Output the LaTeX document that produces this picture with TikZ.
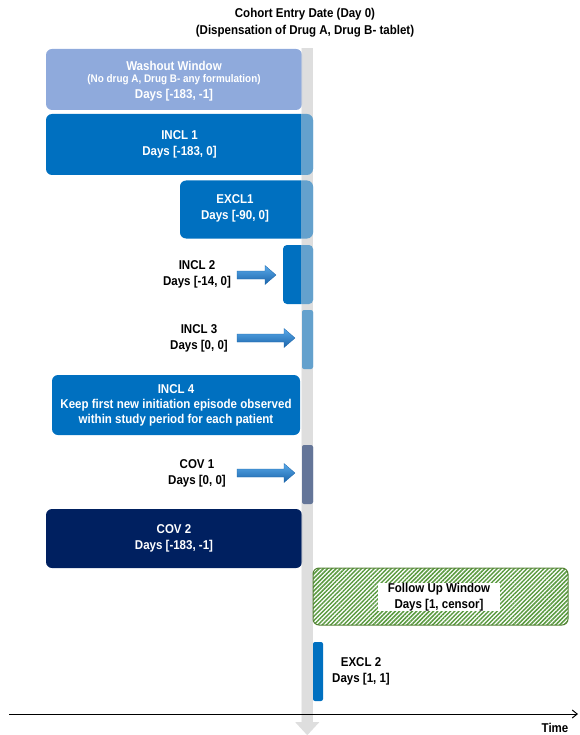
\documentclass[tikz,border=0pt]{standalone}
\usepackage{fontspec}
\setmainfont{Liberation Sans}[FakeStretch=0.9]
\usetikzlibrary{arrows.meta,patterns.meta,calc}
\definecolor{wash}{HTML}{8FAADC}
\definecolor{mblue}{HTML}{0070C0}
\definecolor{navy}{HTML}{002060}
\definecolor{gbar}{HTML}{DEDEDE}
\definecolor{fgreen}{HTML}{548235}
\definecolor{hgreen}{HTML}{5A9A40}
\definecolor{arrtop}{HTML}{5AAAEA}
\definecolor{arrbot}{HTML}{1A64AA}
\newcommand\mainf{\fontsize{12.8}{16}\selectfont\bfseries}
\newcommand\blockarrow[2]{%
  \shade[barr] ($(#1)+(0,-4)$) -- ($(#2)+(-11,-4)$) -- ($(#2)+(-11,-9.5)$) -- (#2)
    -- ($(#2)+(-11,9.5)$) -- ($(#2)+(-11,4)$) -- ($(#1)+(0,4)$) -- cycle;}
\begin{document}
\begin{tikzpicture}[x=1pt,y=-1pt]
\tikzset{
  box/.style={rounded corners=6pt, inner sep=0pt, text=white, font=\mainf, align=center},
  thinbar/.style={rounded corners=2pt, inner sep=0pt},
  lbl/.style={font=\mainf, align=center, inner sep=0pt},
  barr/.style={top color=arrtop, bottom color=arrbot, draw=arrbot, line width=0.3pt},
}
\useasboundingbox (0,0) rectangle (579,735);

% title
\node[lbl, font=\fontsize{12.8}{17}\selectfont\bfseries] (title) at (305,22.5)
  {Cohort Entry Date (Day 0)\\(Dispensation of Drug A, Drug B- tablet)};

% grey time-zero bar
\node[fill=gbar, minimum width=11.5, minimum height=674, inner sep=0pt] (bar) at (307.25,385) {};
\fill[gbar] ($(bar.south)+(-12,0)$) -- ($(bar.south)+(12,0)$) -- ($(bar.south)+(0,13)$) -- cycle;

% washout
\node[box, fill=wash, minimum width=256, minimum height=61] (wash) at (174,79.5) {};
\node[lbl, text=white] (w1) at (174,66) {Washout Window};
\node[lbl, text=white, font=\fontsize{11}{12}\selectfont\bfseries] (w2) at (174,80) {(No drug A, Drug B- any formulation)};
\node[lbl, text=white] (w3) at (174,95) {Days [-183, -1]};

% INCL 1
\node[box, fill=mblue, minimum width=267, minimum height=61] (incl1) at (179.5,144.5) {INCL 1\\Days [-183, 0]};

% EXCL1
\node[box, fill=mblue, minimum width=133, minimum height=58] (excl1) at (246.5,209.5) {};
\node[lbl, text=white] (excl1t) at (235,208) {EXCL1\\Days [-90, 0]};

% INCL 2
\node[box, rounded corners=4pt, fill=mblue, minimum width=30, minimum height=59] (incl2) at (298,274.5) {};
\node[lbl] (incl2t) at (197,274.5) {INCL 2\\Days [-14, 0]};
\coordinate (a2s) at (237,275);
\coordinate (a2e) at (276,275);
\blockarrow{a2s}{a2e}

% INCL 3
\node[thinbar, fill=mblue, minimum width=11, minimum height=59] (incl3) at (307.5,339.5) {};
\node[lbl] (incl3t) at (199,338.5) {INCL 3\\Days [0, 0]};
\coordinate (a3s) at (237,338);
\coordinate (a3e) at (295,338);
\blockarrow{a3s}{a3e}

% INCL 4
\node[box, fill=mblue, minimum width=248, minimum height=60, font=\fontsize{12.8}{15}\selectfont\bfseries] (incl4) at (176,405)
  {INCL 4\\Keep first new initiation episode observed\\within study period for each patient};

% COV 1
\node[thinbar, fill=navy, minimum width=11, minimum height=59] (cov1) at (307.5,474.5) {};
\node[lbl] (cov1t) at (197,473.5) {COV 1\\Days [0, 0]};
\coordinate (c1s) at (237,473);
\coordinate (c1e) at (295,473);
\blockarrow{c1s}{c1e}

% COV 2
\node[box, fill=navy, minimum width=256, minimum height=59] (cov2) at (174,538.5) {COV 2\\Days [-183, -1]};

% lighten parts over the bar
\fill[gbar, opacity=0.45] (bar.north west) rectangle (bar.south east);

% Follow up
\node[rounded corners=6pt, draw=fgreen, line width=1pt, inner sep=0pt,
      pattern={Lines[angle=45, distance=3pt, line width=1.5pt]}, pattern color=hgreen,
      minimum width=255, minimum height=57] (follow) at (440.5,596.5) {};
\node[fill=white, inner sep=0pt, minimum width=122, minimum height=28, lbl] (followt) at (439,597)
  {Follow Up Window\\Days [1, censor]};

% EXCL 2
\node[thinbar, fill=mblue, minimum width=10, minimum height=59] (excl2) at (318,671.5) {};
\node[lbl] (excl2t) at (361,671.5) {EXCL 2\\Days [1, 1]};

% time axis
\coordinate (t0) at (9,714);
\coordinate (t1) at (578,714);
\draw[line width=1pt, -{Straight Barb[length=5pt,width=8pt]}] (t0) -- (t1);
\node[lbl] (time) at (555,728) {Time};
\end{tikzpicture}
\end{document}
